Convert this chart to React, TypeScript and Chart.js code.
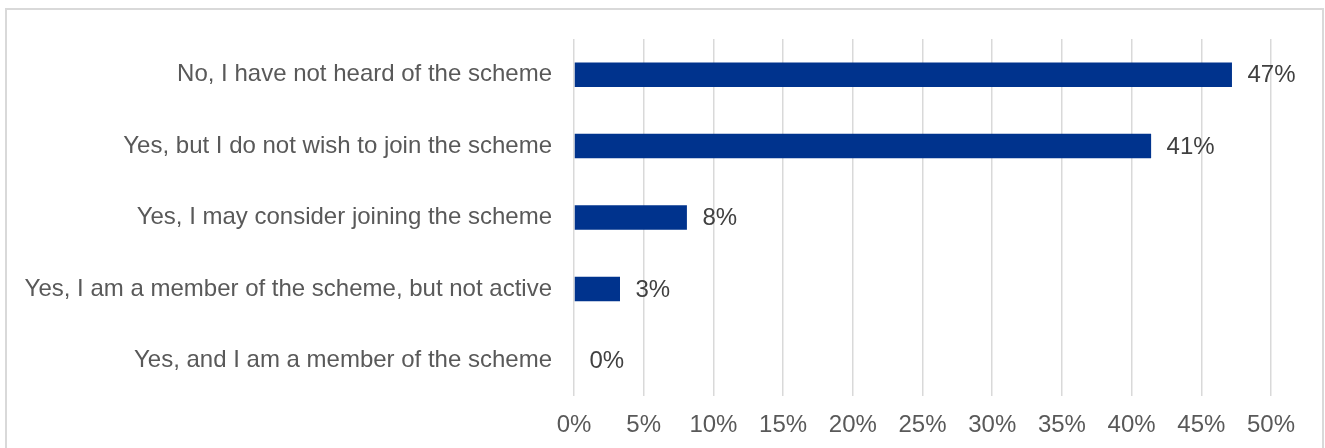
import React, { useEffect, useRef } from "react";
import { Chart, registerables } from "chart.js";

Chart.register(...registerables);

const categories = [
  "No, I have not heard of the scheme",
  "Yes, but I do not wish to join the scheme",
  "Yes, I may consider joining the scheme",
  "Yes, I am a member of the scheme, but not active",
  "Yes, and I am a member of the scheme",
];
const values = [47.2, 41.4, 8.1, 3.3, 0];
const xMin = 0;
const xMax = 50;
const xStep = 5;

const FONT = "'Liberation Sans', Arial, sans-serif";

const dataLabelPlugin = {
  id: "dataLabels",
  afterDatasetsDraw(chart: any) {
    const ctx = chart.ctx;
    const meta = chart.getDatasetMeta(0);
    ctx.save();
    ctx.font = `24px ${FONT}`;
    ctx.fillStyle = "#404040";
    ctx.textAlign = "left";
    ctx.textBaseline = "middle";
    meta.data.forEach((bar: any, i: number) => {
      const v = values[i];
      ctx.fillText(`${Math.round(v)}%`, bar.x + 15.5, bar.y + 1);
    });
    ctx.restore();
  },
};

export default function App() {
  const canvasRef = useRef<HTMLCanvasElement | null>(null);

  useEffect(() => {
    if (!canvasRef.current) return;
    const chart = new Chart(canvasRef.current, {
      type: "bar",
      data: {
        labels: categories,
        datasets: [
          {
            data: values,
            backgroundColor: "#00338D",
            borderWidth: 0,
            categoryPercentage: 1,
            barPercentage: 0.343,
          },
        ],
      },
      options: {
        indexAxis: "y",
        animation: false,
        responsive: false,
        maintainAspectRatio: false,
        layout: { padding: { top: 39, right: 54, bottom: 0, left: 0 } },
        plugins: {
          legend: { display: false },
          tooltip: { enabled: false },
        },
        scales: {
          x: {
            min: xMin,
            max: xMax,
            grid: { color: "#d9d9d9", lineWidth: 1.5, drawTicks: false },
            border: { display: false },
            ticks: {
              stepSize: xStep,
              padding: 15,
              color: "#595959",
              font: { family: FONT, size: 24 },
              callback: (v: any) => `${v}%`,
            },
            afterFit: (scale: any) => {
              scale.height = 52;
            },
          },
          y: {
            grid: { display: false, drawTicks: false },
            border: { display: false },
            ticks: {
              padding: 22,
              color: "#595959",
              font: { family: FONT, size: 24 },
            },
            afterFit: (scale: any) => {
              scale.width = 574;
            },
          },
        },
      },
      plugins: [dataLabelPlugin],
    });
    return () => chart.destroy();
  }, []);

  return (
    <div style={{ position: "absolute", left: 0, top: 0, width: 1325, height: 448, overflow: "hidden", background: "#fff" }}>
      <div
        style={{
          position: "absolute",
          left: 5,
          top: 8,
          width: 1315,
          height: 480,
          border: "2px solid #d9d9d9",
          boxSizing: "content-box",
        }}
      />
      <canvas ref={canvasRef} width={1325} height={448} style={{ position: "absolute", left: 0, top: 0 }} />
    </div>
  );
}
